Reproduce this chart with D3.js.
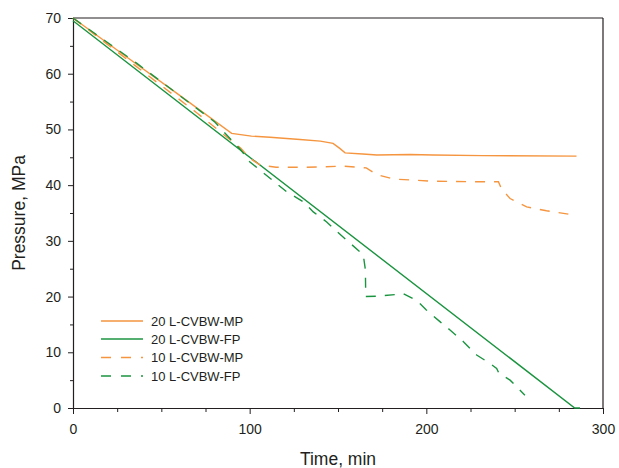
<html>
<head>
    <title>Pressure vs time</title>
    <style>
        body { margin: 0; background: #fff; }
        svg { display: block; font-family: Arial, "Liberation Sans", sans-serif; }
    </style>
</head>
<body>
<div id="chart"></div>
</body>
<script src="https://d3js.org/d3.v7.min.js"></script>
<script>

  const width = 619;
  const height = 468;

  // series: [time (min), pressure (MPa)]
  const mp20 = [[0, 70], [30, 63.1], [60, 56.2], [89.8, 49.3], [101, 48.8], [111.5, 48.6], [128.5, 48.2],
    [140, 47.9], [147.2, 47.5], [151, 46.6], [154, 45.8], [164, 45.6], [172, 45.4], [190.8, 45.5],
    [203.8, 45.4], [232, 45.3], [285, 45.2]];
  const fp20 = [[0, 69.5], [284, 0], [287, 0]];
  const mp10 = [[0, 70], [35, 61.5], [70, 53.0], [95, 46.6], [100.2, 44.8], [106, 43.6], [115, 43.2],
    [130, 43.2], [153, 43.4], [166, 43.1], [171.9, 41.9], [181.3, 41.1], [204, 40.7], [234, 40.6],
    [240.8, 40.6], [242.6, 39.3], [247.4, 37.6], [256.8, 36.1], [268, 35.4], [280.4, 34.8]];
  const fp10 = [[0, 70], [36, 61.9], [80, 51.4], [95, 46.3], [100, 44.2], [121, 38.8], [130.4, 37.0],
    [136, 35.2], [143.6, 33.4], [149.3, 31.7], [156.8, 29.6], [164.3, 27.5], [165.5, 24.8],
    [165.7, 20.0], [173.8, 20.1], [187, 20.5], [194.5, 19.3], [200, 17.6], [207.7, 15.5],
    [213.4, 14.0], [221, 11.9], [228.5, 9.5], [236, 8.0], [239.8, 7.1], [241, 6.3], [247.4, 5.0],
    [255.8, 2.3]];

  const seriesNames = ['20 L-CVBW-MP', '20 L-CVBW-FP', '10 L-CVBW-MP', '10 L-CVBW-FP'];
  const seriesData = [mp20, fp20, mp10, fp10];
  const seriesColors = ['#f5953f', '#1b9440', '#f5953f', '#1b9440'];
  const seriesDash = [null, null, '10,9', '10,9'];

  const xTicks = [0, 100, 200, 300];
  const yTicks = [0, 10, 20, 30, 40, 50, 60, 70];

  const margin = {left: 73, top: 18, right: 16, bottom: 60};
  const x = d3.scaleLinear().domain([0, 300]).range([margin.left, width - margin.right]);
  const y = d3.scaleLinear().domain([0, 70]).range([height - margin.bottom, margin.top]);

  const svg = d3.select('#chart')
    .append('svg')
    .attr('width', width)
    .attr('height', height);

  const axisColor = '#231f20';

  // frame top and right
  svg.append('line')
    .attr('x1', x(0)).attr('x2', x(300)).attr('y1', y(70)).attr('y2', y(70))
    .attr('stroke', axisColor).attr('stroke-width', 1.2);
  svg.append('line')
    .attr('x1', x(300)).attr('x2', x(300)).attr('y1', y(70)).attr('y2', y(0))
    .attr('stroke', axisColor).attr('stroke-width', 1.2);

  // minor ticks
  const xMinor = d3.range(0, 301, 25).filter(d => d % 100 !== 0);
  const yMinor = d3.range(5, 70, 10);

  const gx = svg.append('g')
    .attr('transform', `translate(0, ${y(0)})`)
    .call(d3.axisBottom(x).tickValues(xTicks).tickSize(6).tickPadding(10).tickSizeOuter(0));
  gx.append('g').call(d3.axisBottom(x).tickValues(xMinor).tickSize(4).tickFormat('').tickSizeOuter(0))
    .select('.domain').remove();

  const gy = svg.append('g')
    .attr('transform', `translate(${x(0)}, 0)`)
    .call(d3.axisLeft(y).tickValues(yTicks).tickSize(5).tickPadding(7).tickSizeOuter(0));
  gy.append('g').call(d3.axisLeft(y).tickValues(yMinor).tickSize(3).tickFormat('').tickSizeOuter(0))
    .select('.domain').remove();

  svg.selectAll('.domain').attr('stroke', axisColor).attr('stroke-width', 1.2);
  svg.selectAll('.tick line').attr('stroke', axisColor);
  svg.selectAll('.tick text')
    .attr('font-size', 14)
    .attr('font-family', 'Arial, "Liberation Sans", sans-serif')
    .attr('fill', '#231f20');

  // lines
  const line = d3.line().x(d => x(d[0])).y(d => y(d[1]));
  svg.append('g')
    .selectAll('path')
    .data(seriesData)
    .join('path')
    .attr('d', line)
    .attr('fill', 'none')
    .attr('stroke', (d, i) => seriesColors[i])
    .attr('stroke-width', 1.4)
    .attr('stroke-dasharray', (d, i) => seriesDash[i]);

  // legend
  const legend = svg.append('g');
  const legendY = [321, 339, 357.5, 376];
  seriesNames.forEach((name, i) => {
    legend.append('line')
      .attr('x1', 101).attr('x2', 143)
      .attr('y1', legendY[i]).attr('y2', legendY[i])
      .attr('stroke', seriesColors[i])
      .attr('stroke-width', 1.4)
      .attr('stroke-dasharray', seriesDash[i] ? '10,10' : null);
    legend.append('text')
      .attr('x', 151).attr('y', legendY[i] + 4.5)
      .attr('font-size', 13)
      .attr('fill', '#231f20')
      .text(name);
  });

  // axis titles
  svg.append('text')
    .attr('x', 338).attr('y', 465)
    .attr('text-anchor', 'middle')
    .attr('font-size', 17.5)
    .attr('fill', '#231f20')
    .text('Time, min');

  svg.append('text')
    .attr('transform', `translate(25, ${(y(0) + y(70)) / 2}) rotate(-90)`)
    .attr('text-anchor', 'middle')
    .attr('font-size', 17.5)
    .attr('fill', '#231f20')
    .text('Pressure, MPa');

</script>
</html>
